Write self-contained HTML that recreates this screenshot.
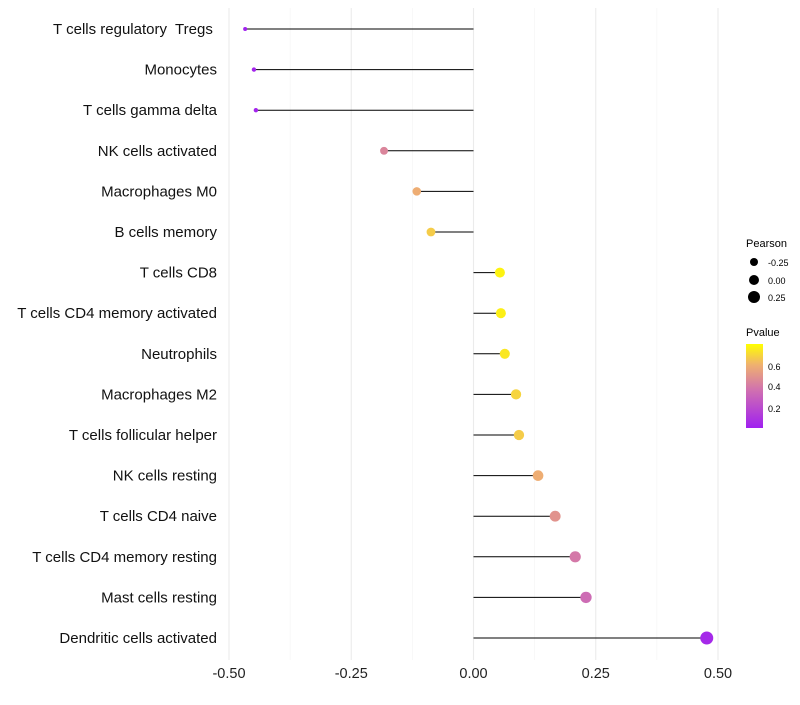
<!DOCTYPE html>
<html><head><meta charset="utf-8"><style>
body{margin:0;background:#fff;font-family:"Liberation Sans",sans-serif}
</style></head><body>
<svg id="chart" width="800" height="700" xmlns="http://www.w3.org/2000/svg">
<defs><linearGradient id="pg" x1="0" y1="1" x2="0" y2="0">
<stop offset="0" stop-color="#A020F0"/><stop offset="0.45" stop-color="#D070B0"/><stop offset="0.75" stop-color="#EFB070"/><stop offset="1" stop-color="#FFFF00"/></linearGradient></defs>
<g id="grid"></g><g id="marks"></g><g id="labels"></g>
<g font-size="10">
<text x="746" y="247" font-size="11">Pearson</text>
<circle cx="754" cy="262" r="4" fill="#000"/><text x="768" y="266" font-size="9">-0.25</text>
<circle cx="754" cy="280" r="5" fill="#000"/><text x="768" y="284" font-size="9">0.00</text>
<circle cx="754" cy="297" r="6" fill="#000"/><text x="768" y="301" font-size="9">0.25</text>
</g>
<g>
<text x="746" y="336" font-size="11">Pvalue</text>
<rect x="746" y="344" width="17" height="84" fill="url(#pg)"/>
<text x="768" y="370" font-size="9">0.6</text>
<text x="768" y="390" font-size="9">0.4</text>
<text x="768" y="412" font-size="9">0.2</text>
</g>
</svg>
<script>
const categories=["T cells regulatory  Tregs ","Monocytes","T cells gamma delta","NK cells activated","Macrophages M0","B cells memory","T cells CD8","T cells CD4 memory activated","Neutrophils","Macrophages M2","T cells follicular helper","NK cells resting","T cells CD4 naive","T cells CD4 memory resting","Mast cells resting","Dendritic cells activated"];
const pearson=[-0.467,-0.449,-0.445,-0.183,-0.116,-0.087,0.054,0.056,0.064,0.087,0.093,0.132,0.167,0.208,0.230,0.477];
const pvalues=[0.02,0.03,0.03,0.45,0.6,0.68,0.78,0.77,0.75,0.7,0.68,0.6,0.5,0.4,0.35,0.05];
const xTicks=[-0.5,-0.25,0,0.25,0.5];
const xTickLabels=["-0.50","-0.25","0.00","0.25","0.50"];
const NS="http://www.w3.org/2000/svg";
const x=v=>473.5+v*489;
const y=i=>29+i*40.6;
const r=v=>Math.sqrt(4+Math.max(0,v+0.467)*40.5);
function lerp(a,b,t){return a.map((c,k)=>Math.round(c+(b[k]-c)*t));}
function color(p){const t=Math.min(1,Math.max(0,(p-0.01)/0.8));
const st=[[0,[160,32,240]],[0.45,[208,112,176]],[0.75,[239,176,112]],[1,[255,255,0]]];
for(let k=1;k<st.length;k++){if(t<=st[k][0]){const c=lerp(st[k-1][1],st[k][1],(t-st[k-1][0])/(st[k][0]-st[k-1][0]));return `rgb(${c})`;}}return "rgb(255,255,0)";}
function mk(tag,at,parent){const e=document.createElementNS(NS,tag);for(const k in at)e.setAttribute(k,at[k]);parent.appendChild(e);return e;}
const grid=document.getElementById('grid'),marks=document.getElementById('marks'),labels=document.getElementById('labels');
for(let j=0;j<xTicks.length*2-1;j++){const v=-0.5+j*0.125;
const l=mk('line',{x1:x(v),x2:x(v),y1:8,y2:660,stroke:j%2?'#f4f4f4':'#ebebeb','stroke-width':j%2?0.6:1.1},grid);

}
xTicks.forEach((v,i)=>{const t=mk('text',{x:x(v),y:678,'text-anchor':'middle','font-size':14.5,fill:'#222'},labels);t.textContent=xTickLabels[i];

});
categories.forEach((c,i)=>{
const t=mk('text',{x:217,y:y(i)+5,'text-anchor':'end','font-size':15,fill:'#111'},labels);t.textContent=c;
t.style.whiteSpace='pre';


const l=mk('line',{x1:x(0),x2:x(pearson[i]),y1:y(i),y2:y(i),stroke:'#000','stroke-width':1},marks);


const p=mk('circle',{cx:x(pearson[i]),cy:y(i),r:r(pearson[i]),fill:color(pvalues[i])},marks);


});
</script>
</body></html>
